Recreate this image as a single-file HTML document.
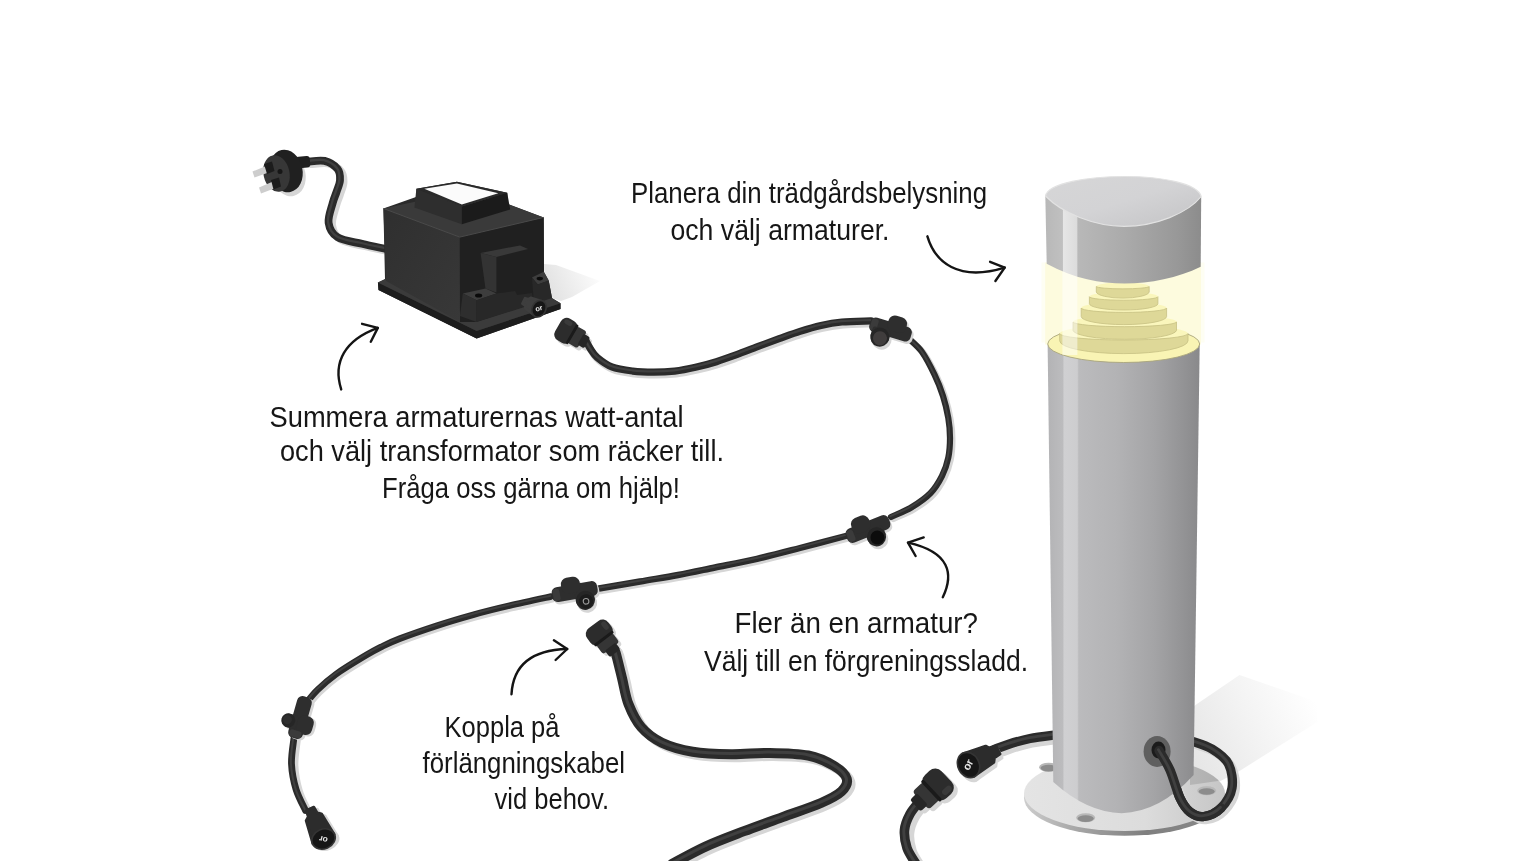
<!DOCTYPE html>
<html lang="sv"><head><meta charset="utf-8"><title>Trädgårdsbelysning</title>
<style>html,body{margin:0;padding:0;background:#fff;overflow:hidden}svg{display:block;will-change:transform}</style></head>
<body>
<svg width="1530" height="861" viewBox="0 0 1530 861">
<rect width="1530" height="861" fill="#ffffff"/>
<defs><linearGradient id="gBody" x1="0" x2="1" y1="0" y2="0"><stop offset="0" stop-color="#b3b3b5"/><stop offset="0.10" stop-color="#bcbcbe"/><stop offset="0.108" stop-color="#d0d0d2"/><stop offset="0.195" stop-color="#cdcdcf"/><stop offset="0.205" stop-color="#bbbbbd"/><stop offset="0.45" stop-color="#b3b3b5"/><stop offset="0.70" stop-color="#a4a4a6"/><stop offset="0.87" stop-color="#959597"/><stop offset="1" stop-color="#89898b"/></linearGradient><linearGradient id="gCap" x1="0" x2="1" y1="0" y2="0"><stop offset="0" stop-color="#b8b8b8"/><stop offset="0.11" stop-color="#c0c0c0"/><stop offset="0.115" stop-color="#e6e6e6"/><stop offset="0.20" stop-color="#dcdcdc"/><stop offset="0.21" stop-color="#b8b8b8"/><stop offset="0.5" stop-color="#ababab"/><stop offset="0.85" stop-color="#989898"/><stop offset="1" stop-color="#8c8c8c"/></linearGradient><linearGradient id="gTop" x1="0" x2="1" y1="0" y2="1"><stop offset="0" stop-color="#d6d6d7"/><stop offset="0.5" stop-color="#d3d3d5"/><stop offset="1" stop-color="#c3c3c5"/></linearGradient><linearGradient id="gShadow" gradientUnits="userSpaceOnUse" x1="1196" y1="765" x2="1317" y2="705"><stop offset="0" stop-color="#e6e6e6"/><stop offset="0.5" stop-color="#f3f3f3"/><stop offset="1" stop-color="#ffffff"/></linearGradient><linearGradient id="gShadowT" x1="0" x2="1" y1="0.3" y2="0"><stop offset="0" stop-color="#e3e3e3"/><stop offset="1" stop-color="#ffffff"/></linearGradient><linearGradient id="gPlate" x1="0" x2="1" y1="0" y2="0"><stop offset="0" stop-color="#e4e4e4"/><stop offset="0.6" stop-color="#dcdcdc"/><stop offset="1" stop-color="#c6c6c6"/></linearGradient><linearGradient id="gEdge" x1="0" x2="1" y1="0" y2="0"><stop offset="0" stop-color="#cdcdcd"/><stop offset="0.25" stop-color="#a8a8a8"/><stop offset="0.6" stop-color="#7f7f7f"/><stop offset="1" stop-color="#8a8a8a"/></linearGradient><linearGradient id="gLeft" x1="0" x2="1" y1="0" y2="1"><stop offset="0" stop-color="#2f2f2f"/><stop offset="1" stop-color="#383838"/></linearGradient><radialGradient id="gGlow" cx="0.5" cy="0.5" r="0.5"><stop offset="0.8" stop-color="#fdfbdc"/><stop offset="1" stop-color="#ffffff"/></radialGradient><clipPath id="cPlate"><ellipse cx="1124.5" cy="793.5" rx="100.5" ry="37.5"/></clipPath><clipPath id="cGlass"><path d="M1040 255 L1046.7 263.8 Q1124.6 303 1200.7 266.8 L1206 255 L1206 375 L1040 375Z"/></clipPath></defs>
<path d="M1194 706 L1239.5 675 L1317.4 702 L1317.4 722 L1239.5 771 L1194 795Z" fill="url(#gShadow)"/>
<ellipse cx="1124.5" cy="797.8" rx="100.5" ry="38" fill="url(#gEdge)"/>
<ellipse cx="1124.5" cy="793.5" rx="100.5" ry="37.5" fill="url(#gPlate)"/>
<ellipse cx="1048.6" cy="767.3" rx="9.5" ry="4.500" fill="#b8b8b8"/>
<ellipse cx="1048.6" cy="768.1" rx="8" ry="3.300" fill="#8c8c8c"/>
<ellipse cx="1085.7" cy="817.8" rx="9.5" ry="4.500" fill="#b8b8b8"/>
<ellipse cx="1085.7" cy="818.6" rx="8" ry="3.300" fill="#8c8c8c"/>
<ellipse cx="1206.7" cy="790.7" rx="9.5" ry="4.500" fill="#b8b8b8"/>
<ellipse cx="1206.7" cy="791.5" rx="8" ry="3.300" fill="#8c8c8c"/>
<g clip-path="url(#cPlate)"><path d="M1190 745 L1232 760 L1232 779 L1190 785Z" fill="#000" opacity="0.12"/></g>
<path d="M1159.0 750.5 C1160.8 753.8 1166.5 762.1 1170.0 770.0 C1173.5 777.9 1176.7 791.0 1180.0 798.0 C1183.3 805.0 1186.0 808.9 1190.0 812.0 C1194.0 815.1 1198.8 817.2 1204.0 816.5 C1209.2 815.8 1216.3 812.8 1221.0 808.0 C1225.7 803.2 1230.8 795.3 1232.0 788.0 C1233.2 780.7 1231.8 770.5 1228.5 764.0 C1225.2 757.5 1218.4 752.9 1212.0 749.0 C1205.6 745.1 1193.7 741.9 1190.0 740.5" fill="none" stroke="#d6d6d6" stroke-width="9.3" stroke-linecap="round" transform="translate(3.0 3.0)"/><path d="M1159.0 750.5 C1160.8 753.8 1166.5 762.1 1170.0 770.0 C1173.5 777.9 1176.7 791.0 1180.0 798.0 C1183.3 805.0 1186.0 808.9 1190.0 812.0 C1194.0 815.1 1198.8 817.2 1204.0 816.5 C1209.2 815.8 1216.3 812.8 1221.0 808.0 C1225.7 803.2 1230.8 795.3 1232.0 788.0 C1233.2 780.7 1231.8 770.5 1228.5 764.0 C1225.2 757.5 1218.4 752.9 1212.0 749.0 C1205.6 745.1 1193.7 741.9 1190.0 740.5" fill="none" stroke="#2b2b2b" stroke-width="9.3" stroke-linecap="round"/><path d="M1159.0 750.5 C1160.8 753.8 1166.5 762.1 1170.0 770.0 C1173.5 777.9 1176.7 791.0 1180.0 798.0 C1183.3 805.0 1186.0 808.9 1190.0 812.0 C1194.0 815.1 1198.8 817.2 1204.0 816.5 C1209.2 815.8 1216.3 812.8 1221.0 808.0 C1225.7 803.2 1230.8 795.3 1232.0 788.0 C1233.2 780.7 1231.8 770.5 1228.5 764.0 C1225.2 757.5 1218.4 752.9 1212.0 749.0 C1205.6 745.1 1193.7 741.9 1190.0 740.5" fill="none" stroke="#404040" stroke-width="2.8" stroke-linecap="round" transform="translate(-0.6 -0.8)"/>
<path d="M1058.0 734.5 C1053.3 735.2 1038.3 736.8 1030.0 738.5 C1021.7 740.2 1015.0 742.2 1008.0 744.5 C1001.0 746.8 991.3 750.8 988.0 752.0" fill="none" stroke="#d6d6d6" stroke-width="9.3" stroke-linecap="round" transform="translate(2.0 4.5)"/><path d="M1058.0 734.5 C1053.3 735.2 1038.3 736.8 1030.0 738.5 C1021.7 740.2 1015.0 742.2 1008.0 744.5 C1001.0 746.8 991.3 750.8 988.0 752.0" fill="none" stroke="#2b2b2b" stroke-width="9.3" stroke-linecap="round"/><path d="M1058.0 734.5 C1053.3 735.2 1038.3 736.8 1030.0 738.5 C1021.7 740.2 1015.0 742.2 1008.0 744.5 C1001.0 746.8 991.3 750.8 988.0 752.0" fill="none" stroke="#404040" stroke-width="2.8" stroke-linecap="round" transform="translate(-0.6 -0.8)"/>
<path d="M1047.6 343 L1053.3 782 Q1087 812.500 1121.6 813.2 Q1160 812 1193.6 775 L1199.7 344 Z" fill="url(#gBody)"/>
<rect x="1041.500" y="262.500" width="163" height="80" fill="#fefef3"/>
<rect x="1045.2" y="262.500" width="155.7" height="82" fill="#fdfbde"/>
<ellipse cx="1123.700" cy="344" rx="76" ry="18.500" fill="#f9f4b4" stroke="#a9a57c" stroke-width="0.9"/>
<ellipse cx="1123.8" cy="333.5" rx="64.1" ry="8.0" fill="#faf6bc"/>
<path d="M1059.7 333.5 A64.1 6.5 0 0 0 1188.0 333.5 L1188.0 340.8 A64.1 12.8 0 0 1 1059.7 340.8 Z" fill="#ded898" stroke="#c6c083" stroke-width="0.8"/>
<ellipse cx="1124.8" cy="322.0" rx="51.8" ry="6.4" fill="#faf6bc"/>
<path d="M1073.0 322.0 A51.8 4.9 0 0 0 1176.5 322.0 L1176.5 330.4 A51.8 9.3 0 0 1 1073.0 330.4 Z" fill="#ded898" stroke="#c6c083" stroke-width="0.8"/>
<ellipse cx="1123.9" cy="308.0" rx="42.7" ry="5.9" fill="#faf6bc"/>
<path d="M1081.2 308.0 A42.7 4.4 0 0 0 1166.6 308.0 L1166.6 316.5 A42.7 8.1 0 0 1 1081.2 316.5 Z" fill="#ded898" stroke="#c6c083" stroke-width="0.8"/>
<ellipse cx="1123.7" cy="296.7" rx="34.2" ry="5.0" fill="#faf6bc"/>
<path d="M1089.4 296.7 A34.2 3.5 0 0 0 1157.9 296.7 L1157.9 303.7 A34.2 6.3 0 0 1 1089.4 303.7 Z" fill="#ded898" stroke="#c6c083" stroke-width="0.8"/>
<ellipse cx="1122.8" cy="286.5" rx="26.5" ry="4.0" fill="#faf6bc"/>
<path d="M1096.3 286.5 A26.5 2.5 0 0 0 1149.2 286.5 L1149.2 292.0 A26.5 6.5 0 0 1 1096.3 292.0 Z" fill="#ded898" stroke="#c6c083" stroke-width="0.8"/>
<g clip-path="url(#cGlass)"><rect x="1062.4" y="255" width="15" height="100" fill="#ffffff" opacity="0.5"/></g>
<path d="M1045.3 195 L1046.7 263.8 C1075 279 1100 283.6 1124.6 283.6 C1150 283.6 1178 278 1200.7 266.8 L1201.2 197 Z" fill="url(#gCap)"/>
<path d="M1045.5 196 C1048 183 1088 176.5 1125 176.5 C1162 176.5 1198 183.500 1201.2 196.5 C1188 213 1156 226.3 1124 226.3 C1094 226.3 1062 213 1045.5 196Z" fill="url(#gTop)" stroke="#e2e2e2" stroke-width="1.2"/>
<ellipse cx="1157.1" cy="751.4" rx="13.5" ry="15.5" fill="#5f5f5f"/>
<ellipse cx="1158.5" cy="750" rx="7" ry="8.500" fill="#1b1b1b"/>
<path d="M1159.0 750.5 C1160.8 753.8 1166.5 762.1 1170.0 770.0 C1173.5 777.9 1176.7 791.0 1180.0 798.0 C1183.3 805.0 1186.0 808.9 1190.0 812.0 C1194.0 815.1 1198.8 817.2 1204.0 816.5 C1209.2 815.8 1216.3 812.8 1221.0 808.0" fill="none" stroke="#2b2b2b" stroke-width="9.3" stroke-linecap="round"/><path d="M1159.0 750.5 C1160.8 753.8 1166.5 762.1 1170.0 770.0 C1173.5 777.9 1176.7 791.0 1180.0 798.0 C1183.3 805.0 1186.0 808.9 1190.0 812.0 C1194.0 815.1 1198.8 817.2 1204.0 816.5 C1209.2 815.8 1216.3 812.8 1221.0 808.0" fill="none" stroke="#404040" stroke-width="2.8" stroke-linecap="round" transform="translate(-0.6 -0.8)"/>
<g transform="translate(970.5 769.0) rotate(-27.0)"><path d="M0 -12.5 L23.8 -9.0 L26.4 -5.2 L33.0 -4.5 L33.0 4.5 L26.4 5.2 L23.8 9.0 L0 12.5 Z" fill="#d6d6d6" stroke="#d6d6d6" stroke-width="3" stroke-linejoin="round"/><ellipse cx="0" cy="0" rx="10.0" ry="14.0" fill="#d6d6d6"/></g><g transform="translate(968.5 765.0) rotate(-27.0)"><path d="M0 -12.5 L23.8 -9.0 L26.4 -5.2 L33.0 -4.5 L33.0 4.5 L26.4 5.2 L23.8 9.0 L0 12.5 Z" fill="#2c2c2c" stroke="#2c2c2c" stroke-width="3" stroke-linejoin="round"/><ellipse cx="0" cy="0" rx="10.6" ry="13.1" fill="#161616" stroke="#343434" stroke-width="1.6"/></g><text x="968.5" y="768.1" font-family="'Liberation Sans', sans-serif" font-size="11.0" font-weight="bold" fill="#e6e6e6" text-anchor="middle" transform="rotate(-62.0 968.5 765.0)">or</text>
<g transform="translate(942.5 787.0) rotate(137.0) scale(1.22)"><rect x="-9" y="-13" width="19" height="26" rx="7" fill="#d6d6d6"/><rect x="8" y="-10" width="12" height="20" rx="3" fill="#d6d6d6"/><rect x="18" y="-6.500" width="8" height="13" rx="2" fill="#d6d6d6"/></g>
<path d="M920.0 801.0 C918.3 803.2 912.6 809.2 910.0 814.0 C907.4 818.8 905.0 824.3 904.5 830.0 C904.0 835.7 905.1 842.3 907.0 848.0 C908.9 853.7 914.5 861.3 916.0 864.0" fill="none" stroke="#d6d6d6" stroke-width="9.6" stroke-linecap="round" transform="translate(5.0 3.0)"/><path d="M920.0 801.0 C918.3 803.2 912.6 809.2 910.0 814.0 C907.4 818.8 905.0 824.3 904.5 830.0 C904.0 835.7 905.1 842.3 907.0 848.0 C908.9 853.7 914.5 861.3 916.0 864.0" fill="none" stroke="#2b2b2b" stroke-width="9.6" stroke-linecap="round"/><path d="M920.0 801.0 C918.3 803.2 912.6 809.2 910.0 814.0 C907.4 818.8 905.0 824.3 904.5 830.0 C904.0 835.7 905.1 842.3 907.0 848.0 C908.9 853.7 914.5 861.3 916.0 864.0" fill="none" stroke="#404040" stroke-width="2.9" stroke-linecap="round" transform="translate(-0.6 -0.8)"/>
<g transform="translate(938.5 784.0) rotate(137.0) scale(1.22)"><rect x="-9" y="-13" width="19" height="26" rx="7" fill="#2c2c2c"/><rect x="8" y="-10" width="12" height="20" rx="3" fill="#353535"/><rect x="18" y="-6.500" width="8" height="13" rx="2" fill="#262626"/><rect x="6.500" y="-11.500" width="3" height="23" rx="1.5" fill="#1a1a1a"/><rect x="-6" y="-11" width="9" height="5" rx="2.5" fill="#3a3a3a"/></g>
<g transform="translate(602.0 634.5) rotate(53.0) scale(1.02)"><rect x="-9" y="-13" width="19" height="26" rx="7" fill="#d6d6d6"/><rect x="8" y="-10" width="12" height="20" rx="3" fill="#d6d6d6"/><rect x="18" y="-6.500" width="8" height="13" rx="2" fill="#d6d6d6"/></g>
<path d="M613.5 649.0 C613.9 649.6 614.3 647.9 615.7 652.8 C617.1 657.7 620.0 669.9 622.1 678.5 C624.2 687.1 625.3 696.1 628.5 704.2 C631.7 712.3 635.7 720.9 641.3 727.3 C646.9 733.7 653.3 738.6 661.9 742.7 C670.5 746.8 681.2 749.8 692.7 751.7 C704.2 753.6 718.4 754.0 731.2 754.2 C744.0 754.4 756.9 752.7 769.7 752.9 C782.5 753.1 797.5 753.4 808.2 755.5 C818.9 757.6 827.4 761.9 833.8 765.8 C840.2 769.6 845.4 774.3 846.7 778.6 C848.0 782.9 845.8 787.3 841.5 791.4 C837.2 795.5 830.8 798.7 821.0 803.0 C811.2 807.3 795.3 812.4 782.5 817.1 C769.7 821.8 756.8 826.3 744.0 831.2 C731.2 836.1 717.5 841.1 705.5 846.6 C693.5 852.1 677.6 861.1 672.0 864.0" fill="none" stroke="#d6d6d6" stroke-width="10.0" stroke-linecap="round" transform="translate(3.5 3.0)"/><path d="M613.5 649.0 C613.9 649.6 614.3 647.9 615.7 652.8 C617.1 657.7 620.0 669.9 622.1 678.5 C624.2 687.1 625.3 696.1 628.5 704.2 C631.7 712.3 635.7 720.9 641.3 727.3 C646.9 733.7 653.3 738.6 661.9 742.7 C670.5 746.8 681.2 749.8 692.7 751.7 C704.2 753.6 718.4 754.0 731.2 754.2 C744.0 754.4 756.9 752.7 769.7 752.9 C782.5 753.1 797.5 753.4 808.2 755.5 C818.9 757.6 827.4 761.9 833.8 765.8 C840.2 769.6 845.4 774.3 846.7 778.6 C848.0 782.9 845.8 787.3 841.5 791.4 C837.2 795.5 830.8 798.7 821.0 803.0 C811.2 807.3 795.3 812.4 782.5 817.1 C769.7 821.8 756.8 826.3 744.0 831.2 C731.2 836.1 717.5 841.1 705.5 846.6 C693.5 852.1 677.6 861.1 672.0 864.0" fill="none" stroke="#2b2b2b" stroke-width="10.0" stroke-linecap="round"/><path d="M613.5 649.0 C613.9 649.6 614.3 647.9 615.7 652.8 C617.1 657.7 620.0 669.9 622.1 678.5 C624.2 687.1 625.3 696.1 628.5 704.2 C631.7 712.3 635.7 720.9 641.3 727.3 C646.9 733.7 653.3 738.6 661.9 742.7 C670.5 746.8 681.2 749.8 692.7 751.7 C704.2 753.6 718.4 754.0 731.2 754.2 C744.0 754.4 756.9 752.7 769.7 752.9 C782.5 753.1 797.5 753.4 808.2 755.5 C818.9 757.6 827.4 761.9 833.8 765.8 C840.2 769.6 845.4 774.3 846.7 778.6 C848.0 782.9 845.8 787.3 841.5 791.4 C837.2 795.5 830.8 798.7 821.0 803.0 C811.2 807.3 795.3 812.4 782.5 817.1 C769.7 821.8 756.8 826.3 744.0 831.2 C731.2 836.1 717.5 841.1 705.5 846.6 C693.5 852.1 677.6 861.1 672.0 864.0" fill="none" stroke="#404040" stroke-width="3.0" stroke-linecap="round" transform="translate(-0.6 -0.8)"/>
<g transform="translate(599.0 632.0) rotate(53.0) scale(1.02)"><rect x="-9" y="-13" width="19" height="26" rx="7" fill="#2c2c2c"/><rect x="8" y="-10" width="12" height="20" rx="3" fill="#353535"/><rect x="18" y="-6.500" width="8" height="13" rx="2" fill="#262626"/><rect x="6.500" y="-11.500" width="3" height="23" rx="1.5" fill="#1a1a1a"/><rect x="-6" y="-11" width="9" height="5" rx="2.5" fill="#3a3a3a"/></g>
<g transform="translate(568.0 333.5) rotate(30.0) scale(0.96)"><rect x="-9" y="-13" width="19" height="26" rx="7" fill="#d6d6d6"/><rect x="8" y="-10" width="12" height="20" rx="3" fill="#d6d6d6"/><rect x="18" y="-6.500" width="8" height="13" rx="2" fill="#d6d6d6"/></g>
<path d="M585.0 339.0 C585.9 340.7 588.5 345.9 590.5 349.0 C592.5 352.1 593.7 354.5 597.2 357.5 C600.8 360.5 605.9 364.6 611.8 366.9 C617.7 369.2 625.7 370.2 632.7 371.1 C639.7 372.0 646.7 372.2 653.7 372.2 C660.7 372.2 667.6 371.9 674.6 371.1 C681.6 370.3 688.5 368.9 695.5 367.3 C702.5 365.7 709.4 363.9 716.4 361.7 C723.4 359.5 730.3 356.9 737.3 354.4 C744.3 351.8 751.2 349.0 758.2 346.4 C765.2 343.8 772.2 341.2 779.2 338.7 C786.2 336.2 793.0 333.6 800.0 331.4 C807.0 329.2 814.0 327.1 821.0 325.5 C828.0 323.9 833.6 322.8 841.9 322.0 C850.2 321.2 866.1 321.1 871.0 320.9" fill="none" stroke="#d6d6d6" stroke-width="7.2" stroke-linecap="round" transform="translate(1.5 2.8)"/><path d="M585.0 339.0 C585.9 340.7 588.5 345.9 590.5 349.0 C592.5 352.1 593.7 354.5 597.2 357.5 C600.8 360.5 605.9 364.6 611.8 366.9 C617.7 369.2 625.7 370.2 632.7 371.1 C639.7 372.0 646.7 372.2 653.7 372.2 C660.7 372.2 667.6 371.9 674.6 371.1 C681.6 370.3 688.5 368.9 695.5 367.3 C702.5 365.7 709.4 363.9 716.4 361.7 C723.4 359.5 730.3 356.9 737.3 354.4 C744.3 351.8 751.2 349.0 758.2 346.4 C765.2 343.8 772.2 341.2 779.2 338.7 C786.2 336.2 793.0 333.6 800.0 331.4 C807.0 329.2 814.0 327.1 821.0 325.5 C828.0 323.9 833.6 322.8 841.9 322.0 C850.2 321.2 866.1 321.1 871.0 320.9" fill="none" stroke="#2b2b2b" stroke-width="7.2" stroke-linecap="round"/><path d="M585.0 339.0 C585.9 340.7 588.5 345.9 590.5 349.0 C592.5 352.1 593.7 354.5 597.2 357.5 C600.8 360.5 605.9 364.6 611.8 366.9 C617.7 369.2 625.7 370.2 632.7 371.1 C639.7 372.0 646.7 372.2 653.7 372.2 C660.7 372.2 667.6 371.9 674.6 371.1 C681.6 370.3 688.5 368.9 695.5 367.3 C702.5 365.7 709.4 363.9 716.4 361.7 C723.4 359.5 730.3 356.9 737.3 354.4 C744.3 351.8 751.2 349.0 758.2 346.4 C765.2 343.8 772.2 341.2 779.2 338.7 C786.2 336.2 793.0 333.6 800.0 331.4 C807.0 329.2 814.0 327.1 821.0 325.5 C828.0 323.9 833.6 322.8 841.9 322.0 C850.2 321.2 866.1 321.1 871.0 320.9" fill="none" stroke="#404040" stroke-width="2.2" stroke-linecap="round" transform="translate(-0.6 -0.8)"/>
<path d="M908.0 338.0 C910.3 340.3 917.6 345.9 922.0 352.0 C926.4 358.1 931.0 367.4 934.5 374.7 C938.0 382.0 940.7 388.8 943.0 396.0 C945.3 403.2 947.1 411.0 948.3 418.0 C949.5 425.0 950.0 431.4 950.0 438.0 C950.0 444.6 949.6 451.3 948.3 457.6 C947.0 463.9 945.0 470.1 942.0 476.0 C939.0 481.9 935.6 487.8 930.6 493.0 C925.6 498.2 918.6 503.0 912.0 507.0 C905.4 511.0 894.5 515.3 891.0 517.0" fill="none" stroke="#d6d6d6" stroke-width="6.2" stroke-linecap="round" transform="translate(2.4 2.0)"/><path d="M908.0 338.0 C910.3 340.3 917.6 345.9 922.0 352.0 C926.4 358.1 931.0 367.4 934.5 374.7 C938.0 382.0 940.7 388.8 943.0 396.0 C945.3 403.2 947.1 411.0 948.3 418.0 C949.5 425.0 950.0 431.4 950.0 438.0 C950.0 444.6 949.6 451.3 948.3 457.6 C947.0 463.9 945.0 470.1 942.0 476.0 C939.0 481.9 935.6 487.8 930.6 493.0 C925.6 498.2 918.6 503.0 912.0 507.0 C905.4 511.0 894.5 515.3 891.0 517.0" fill="none" stroke="#2b2b2b" stroke-width="6.2" stroke-linecap="round"/><path d="M908.0 338.0 C910.3 340.3 917.6 345.9 922.0 352.0 C926.4 358.1 931.0 367.4 934.5 374.7 C938.0 382.0 940.7 388.8 943.0 396.0 C945.3 403.2 947.1 411.0 948.3 418.0 C949.5 425.0 950.0 431.4 950.0 438.0 C950.0 444.6 949.6 451.3 948.3 457.6 C947.0 463.9 945.0 470.1 942.0 476.0 C939.0 481.9 935.6 487.8 930.6 493.0 C925.6 498.2 918.6 503.0 912.0 507.0 C905.4 511.0 894.5 515.3 891.0 517.0" fill="none" stroke="#404040" stroke-width="1.9" stroke-linecap="round" transform="translate(-0.6 -0.8)"/>
<path d="M845.7 536.0 C838.1 538.0 814.8 544.2 800.0 548.0 C785.2 551.8 771.2 555.5 757.0 558.8 C742.8 562.0 728.2 564.8 715.0 567.5 C701.8 570.2 690.5 572.7 678.0 575.0 C665.5 577.3 653.2 579.2 640.0 581.5 C626.8 583.8 605.8 587.3 599.0 588.5" fill="none" stroke="#d6d6d6" stroke-width="6.4" stroke-linecap="round" transform="translate(1.5 2.6)"/><path d="M845.7 536.0 C838.1 538.0 814.8 544.2 800.0 548.0 C785.2 551.8 771.2 555.5 757.0 558.8 C742.8 562.0 728.2 564.8 715.0 567.5 C701.8 570.2 690.5 572.7 678.0 575.0 C665.5 577.3 653.2 579.2 640.0 581.5 C626.8 583.8 605.8 587.3 599.0 588.5" fill="none" stroke="#2b2b2b" stroke-width="6.4" stroke-linecap="round"/><path d="M845.7 536.0 C838.1 538.0 814.8 544.2 800.0 548.0 C785.2 551.8 771.2 555.5 757.0 558.8 C742.8 562.0 728.2 564.8 715.0 567.5 C701.8 570.2 690.5 572.7 678.0 575.0 C665.5 577.3 653.2 579.2 640.0 581.5 C626.8 583.8 605.8 587.3 599.0 588.5" fill="none" stroke="#404040" stroke-width="1.9" stroke-linecap="round" transform="translate(-0.6 -0.8)"/>
<path d="M551.0 596.5 C544.1 598.0 522.6 602.6 509.6 605.6 C496.6 608.6 485.2 611.4 473.0 614.8 C460.8 618.2 448.6 621.8 436.4 625.8 C424.2 629.8 409.0 635.1 399.8 638.6 C390.6 642.1 387.1 644.0 381.0 647.0 C374.9 650.0 370.7 652.4 363.2 656.9 C355.7 661.4 343.4 668.8 335.8 674.3 C328.2 679.8 322.4 685.1 317.5 689.8 C312.6 694.5 308.3 700.5 306.5 702.6" fill="none" stroke="#d6d6d6" stroke-width="6.5" stroke-linecap="round" transform="translate(2.0 2.6)"/><path d="M551.0 596.5 C544.1 598.0 522.6 602.6 509.6 605.6 C496.6 608.6 485.2 611.4 473.0 614.8 C460.8 618.2 448.6 621.8 436.4 625.8 C424.2 629.8 409.0 635.1 399.8 638.6 C390.6 642.1 387.1 644.0 381.0 647.0 C374.9 650.0 370.7 652.4 363.2 656.9 C355.7 661.4 343.4 668.8 335.8 674.3 C328.2 679.8 322.4 685.1 317.5 689.8 C312.6 694.5 308.3 700.5 306.5 702.6" fill="none" stroke="#2b2b2b" stroke-width="6.5" stroke-linecap="round"/><path d="M551.0 596.5 C544.1 598.0 522.6 602.6 509.6 605.6 C496.6 608.6 485.2 611.4 473.0 614.8 C460.8 618.2 448.6 621.8 436.4 625.8 C424.2 629.8 409.0 635.1 399.8 638.6 C390.6 642.1 387.1 644.0 381.0 647.0 C374.9 650.0 370.7 652.4 363.2 656.9 C355.7 661.4 343.4 668.8 335.8 674.3 C328.2 679.8 322.4 685.1 317.5 689.8 C312.6 694.5 308.3 700.5 306.5 702.6" fill="none" stroke="#404040" stroke-width="1.9" stroke-linecap="round" transform="translate(-0.6 -0.8)"/>
<path d="M293.8 739.0 C293.4 743.2 291.1 755.6 291.5 764.0 C291.9 772.4 293.7 781.5 296.0 789.3 C298.3 797.0 303.9 807.0 305.5 810.5" fill="none" stroke="#d6d6d6" stroke-width="6.8" stroke-linecap="round" transform="translate(3.5 2.0)"/><path d="M293.8 739.0 C293.4 743.2 291.1 755.6 291.5 764.0 C291.9 772.4 293.7 781.5 296.0 789.3 C298.3 797.0 303.9 807.0 305.5 810.5" fill="none" stroke="#2b2b2b" stroke-width="6.8" stroke-linecap="round"/><path d="M293.8 739.0 C293.4 743.2 291.1 755.6 291.5 764.0 C291.9 772.4 293.7 781.5 296.0 789.3 C298.3 797.0 303.9 807.0 305.5 810.5" fill="none" stroke="#404040" stroke-width="2.0" stroke-linecap="round" transform="translate(-0.6 -0.8)"/>
<g transform="translate(565.5 330.5) rotate(30.0) scale(0.96)"><rect x="-9" y="-13" width="19" height="26" rx="7" fill="#2c2c2c"/><rect x="8" y="-10" width="12" height="20" rx="3" fill="#353535"/><rect x="18" y="-6.500" width="8" height="13" rx="2" fill="#262626"/><rect x="6.500" y="-11.500" width="3" height="23" rx="1.5" fill="#1a1a1a"/><rect x="-6" y="-11" width="9" height="5" rx="2.5" fill="#3a3a3a"/></g>
<g transform="translate(892.3 331.9) rotate(17.0)"><rect x="-21.5" y="-7.5" width="43.0" height="15.0" rx="5.500" fill="#d6d6d6"/><rect x="-4.5" y="-15.0" width="19" height="16" rx="6.500" fill="#d6d6d6"/><circle cx="-8.0" cy="10.5" r="10.0" fill="#d6d6d6"/></g><g transform="translate(890.5 329.5) rotate(17.0)"><rect x="-21.5" y="-7.5" width="43.0" height="15.0" rx="5.500" fill="#2e2e2e"/><rect x="-4.5" y="-15.0" width="19" height="16" rx="6.500" fill="#2e2e2e"/><rect x="-20.5" y="-6.0" width="7" height="12.0" rx="2.500" fill="#3b3b3b"/><rect x="-17.5" y="1.5" width="19.0" height="12" rx="3" fill="#2e2e2e"/><circle cx="-8.0" cy="10.5" r="9.5" fill="#262626"/><circle cx="-7.5" cy="11.5" r="7.0" fill="#403d3d"/></g>
<g transform="translate(869.8 531.4) rotate(-22.0)"><rect x="-23.0" y="-7.5" width="46.0" height="15.0" rx="5.500" fill="#d6d6d6"/><rect x="-14.5" y="-15.0" width="19" height="16" rx="6.500" fill="#d6d6d6"/><circle cx="5.0" cy="10.5" r="10.0" fill="#d6d6d6"/></g><g transform="translate(868.0 529.0) rotate(-22.0)"><rect x="-23.0" y="-7.5" width="46.0" height="15.0" rx="5.500" fill="#2e2e2e"/><rect x="-14.5" y="-15.0" width="19" height="16" rx="6.500" fill="#2e2e2e"/><rect x="-22.0" y="-6.0" width="7" height="12.0" rx="2.500" fill="#3b3b3b"/><rect x="-4.5" y="1.5" width="19.0" height="12" rx="3" fill="#2e2e2e"/><circle cx="5.0" cy="10.5" r="9.5" fill="#262626"/><circle cx="5.5" cy="11.5" r="7.0" fill="#0c0c0c"/></g>
<g transform="translate(576.5 594.0) rotate(-10.0)"><rect x="-23.0" y="-7.5" width="46.0" height="15.0" rx="5.500" fill="#d6d6d6"/><rect x="-12.5" y="-15.0" width="19" height="16" rx="6.500" fill="#d6d6d6"/><circle cx="9.0" cy="10.5" r="10.0" fill="#d6d6d6"/></g><g transform="translate(574.7 591.6) rotate(-10.0)"><rect x="-23.0" y="-7.5" width="46.0" height="15.0" rx="5.500" fill="#2e2e2e"/><rect x="-12.5" y="-15.0" width="19" height="16" rx="6.500" fill="#2e2e2e"/><rect x="-22.0" y="-6.0" width="7" height="12.0" rx="2.500" fill="#3b3b3b"/><rect x="-0.5" y="1.5" width="19.0" height="12" rx="3" fill="#2e2e2e"/><circle cx="9.0" cy="10.5" r="9.5" fill="#262626"/><circle cx="9.5" cy="11.5" r="7.0" fill="#1c1c1c"/><circle cx="9.5" cy="11.5" r="2.800" fill="none" stroke="#9a9a9a" stroke-width="1.1"/></g>
<g transform="translate(302.5 719.0) rotate(-74.0)"><rect x="-21.5" y="-7.5" width="43.0" height="15.0" rx="5.500" fill="#d6d6d6"/><rect x="-15.5" y="-1.0" width="19" height="16" rx="6.500" fill="#d6d6d6"/><circle cx="-6.0" cy="-10.5" r="7.5" fill="#d6d6d6"/></g><g transform="translate(300.0 717.5) rotate(-74.0)"><rect x="-21.5" y="-7.5" width="43.0" height="15.0" rx="5.500" fill="#2e2e2e"/><rect x="-15.5" y="-1.0" width="19" height="16" rx="6.500" fill="#2e2e2e"/><rect x="-20.5" y="-6.0" width="7" height="12.0" rx="2.500" fill="#3b3b3b"/><rect x="-13.0" y="-13.5" width="14.0" height="12" rx="3" fill="#2e2e2e"/><circle cx="-6.0" cy="-10.5" r="7.0" fill="#262626"/><circle cx="-5.5" cy="-11.5" r="4.5" fill="#2e2e2e"/></g>
<g transform="translate(327.0 841.0) rotate(-114.0)"><path d="M0 -11.5 L23.8 -8.3 L26.4 -4.8 L33.0 -4.1 L33.0 4.1 L26.4 4.8 L23.8 8.3 L0 11.5 Z" fill="#d6d6d6" stroke="#d6d6d6" stroke-width="3" stroke-linejoin="round"/><ellipse cx="0" cy="0" rx="9.2" ry="13.0" fill="#d6d6d6"/></g><g transform="translate(323.5 839.0) rotate(-114.0)"><path d="M0 -11.5 L23.8 -8.3 L26.4 -4.8 L33.0 -4.1 L33.0 4.1 L26.4 4.8 L23.8 8.3 L0 11.5 Z" fill="#2c2c2c" stroke="#2c2c2c" stroke-width="3" stroke-linejoin="round"/><ellipse cx="0" cy="0" rx="9.8" ry="12.1" fill="#161616" stroke="#343434" stroke-width="1.6"/></g><text x="323.5" y="841.4" font-family="'Liberation Sans', sans-serif" font-size="8.5" font-weight="bold" fill="#e6e6e6" text-anchor="middle" transform="rotate(195.0 323.5 839.0)">or</text>
<path d="M307.5 161.7 C310.4 161.6 319.6 159.7 324.6 160.9 C329.6 162.1 335.0 165.8 337.6 169.0 C340.2 172.2 340.2 176.6 340.0 180.4 C339.8 184.2 337.7 188.2 336.5 192.0 C335.3 195.8 334.0 197.9 332.7 203.0 C331.4 208.1 327.8 217.0 328.6 222.7 C329.4 228.4 332.0 233.8 337.6 237.3 C343.2 240.8 353.9 241.9 362.0 243.8 C370.1 245.8 382.0 248.1 386.0 249.0" fill="none" stroke="#d6d6d6" stroke-width="7.8" stroke-linecap="round" transform="translate(3.5 2.5)"/><path d="M307.5 161.7 C310.4 161.6 319.6 159.7 324.6 160.9 C329.6 162.1 335.0 165.8 337.6 169.0 C340.2 172.2 340.2 176.6 340.0 180.4 C339.8 184.2 337.7 188.2 336.5 192.0 C335.3 195.8 334.0 197.9 332.7 203.0 C331.4 208.1 327.8 217.0 328.6 222.7 C329.4 228.4 332.0 233.8 337.6 237.3 C343.2 240.8 353.9 241.9 362.0 243.8 C370.1 245.8 382.0 248.1 386.0 249.0" fill="none" stroke="#2b2b2b" stroke-width="7.8" stroke-linecap="round"/><path d="M307.5 161.7 C310.4 161.6 319.6 159.7 324.6 160.9 C329.6 162.1 335.0 165.8 337.6 169.0 C340.2 172.2 340.2 176.6 340.0 180.4 C339.8 184.2 337.7 188.2 336.5 192.0 C335.3 195.8 334.0 197.9 332.7 203.0 C331.4 208.1 327.8 217.0 328.6 222.7 C329.4 228.4 332.0 233.8 337.6 237.3 C343.2 240.8 353.9 241.9 362.0 243.8 C370.1 245.8 382.0 248.1 386.0 249.0" fill="none" stroke="#404040" stroke-width="2.3" stroke-linecap="round" transform="translate(-0.6 -0.8)"/>
<ellipse cx="289" cy="175" rx="16.500" ry="21.500" fill="#d6d6d6" transform="rotate(-12 289 175)"/>
<rect x="296" y="156.500" width="14" height="11.500" rx="3" fill="#1f1f1f" transform="rotate(-5 302 162)"/>
<ellipse cx="286" cy="171" rx="16.500" ry="21.500" fill="#202020" transform="rotate(-12 286 171)"/>
<ellipse cx="276.5" cy="173.5" rx="13" ry="18.500" fill="#373737" transform="rotate(-12 276.5 173.5)"/>
<path d="M252.5 171.500 L266 166 L268.5 172.500 L254.5 177.5Z" fill="#cdcdcd"/>
<path d="M259 187.500 L273 181.500 L275.500 188 L261 193.500Z" fill="#cdcdcd"/>
<path d="M264 164 L272 161.500 L274.500 171 L267 174Z" fill="#1c1c1c"/>
<path d="M271 180 L279 177.500 L281 186.500 L273.500 189.500Z" fill="#1c1c1c"/>
<circle cx="280" cy="171.500" r="2.500" fill="#161616"/>
<path d="M544 264 L556 265 L600 281 L572 297 L561 301 L545 296Z" fill="url(#gShadowT)"/>
<path d="M383.4 208.5 L416 197 L416.4 188.8 L456.9 181.8 L507.2 192.7 L508 204 L543.7 217.400 L544 272 L548.7 280.6 L552 298 L560.5 303.3 L560.5 309 L476.6 338.5 L378.5 290 L377.9 282.5 L385 279Z" fill="#2a2a2a"/>
<path d="M377.9 282.5 L476.6 330.9 L560.5 303.3 L560.5 309 L476.6 338.5 L378.500 290Z" fill="#1d1d1d"/>
<path d="M377.9 282.5 L386 279 L476 318 L548 296 L560.5 303.3 L476.6 330.9Z" fill="#3b3b3b"/>
<path d="M383.4 208.5 L459.8 237.1 L460 322 L386 281Z" fill="url(#gLeft)"/>
<path d="M459.8 237.1 L543.7 217.4 L544 300 L476 322 L460 322Z" fill="#202020"/>
<path d="M383.4 208.5 L459.8 237.1 L543.7 217.4 L470 190Z" fill="#3a3a3a"/>
<path d="M383.4 208.5 L459.8 237.1 L543.7 217.4" fill="none" stroke="#4a4a4a" stroke-width="1"/>
<path d="M416.4 188.8 L414.4 207.5 L461.8 224.3 L461.8 206.5Z" fill="#2e2e2e"/>
<path d="M461.8 206.5 L461.8 224.3 L510.2 209.5 L507.2 192.7Z" fill="#1b1b1b"/>
<path d="M416.4 188.8 L456.9 181.8 L507.2 192.7 L461.8 206.5Z" fill="#2a2a2a"/>
<path d="M424.3 188.8 L456.9 183.4 L498.3 193.3 L461.8 204.6Z" fill="#fbfbfb"/>
<path d="M480.6 253 L520 245.4 L528 249 L496.4 256.9Z" fill="#393939"/>
<path d="M480.6 253 L496.4 256.9 L496.4 292.4 L485.5 288.5Z" fill="#333333"/>
<path d="M462.8 293.4 L485.5 288.5 L496.4 293.4 L476.6 300.3Z" fill="#3d3d3d"/>
<path d="M462.8 293.4 L476.6 300.3 L476.6 322 L460 316Z" fill="#2e2e2e"/>
<path d="M476.6 300.3 L496.4 293.4 L515 291 L517 295 L532 293 L534 304 L476.6 322Z" fill="#282828"/>
<ellipse cx="478.6" cy="295.4" rx="3.600" ry="2" fill="#0a0a0a"/>
<path d="M531.9 277.6 L543.7 271.7 L548.7 280.6 L537.8 284.5Z" fill="#3d3d3d"/>
<path d="M531.9 277.6 L537.8 284.5 L548.7 280.6 L552 298 L534 304Z" fill="#282828"/>
<ellipse cx="539.8" cy="278.6" rx="3.200" ry="1.800" fill="#0a0a0a"/>
<g transform="translate(539.0 308.7) rotate(207.0)"><path d="M0 -8.0 L12.2 -5.8 L13.6 -3.4 L17.0 -2.9 L17.0 2.9 L13.6 3.4 L12.2 5.8 L0 8.0 Z" fill="#3e3e3e" stroke="#3e3e3e" stroke-width="3" stroke-linejoin="round"/><ellipse cx="0" cy="0" rx="6.8" ry="8.6" fill="#161616" stroke="#343434" stroke-width="1.6"/></g><text x="539.0" y="310.8" font-family="'Liberation Sans', sans-serif" font-size="7.5" font-weight="bold" fill="#e6e6e6" text-anchor="middle" transform="rotate(-15.0 539.0 308.7)">or</text>
<path d="M927.4 236.3 C935 262 958 282 1004.7 267.6" fill="none" stroke="#141414" stroke-width="2.4" stroke-linecap="round"/><path d="M990.1 261.8 L1004.7 267.6 L995.4 281" fill="none" stroke="#141414" stroke-width="2.4" stroke-linecap="round" stroke-linejoin="round"/>
<path d="M341.2 389.4 C332.500 362 345 340 377.8 327.9" fill="none" stroke="#141414" stroke-width="2.4" stroke-linecap="round"/><path d="M362.1 323.8 L377.8 327.9 L370.8 341.8" fill="none" stroke="#141414" stroke-width="2.4" stroke-linecap="round" stroke-linejoin="round"/>
<path d="M942.8 597.2 C954 574 950 552 908 542.6" fill="none" stroke="#141414" stroke-width="2.4" stroke-linecap="round"/><path d="M923.7 537.4 L908 542.6 L915.6 556" fill="none" stroke="#141414" stroke-width="2.4" stroke-linecap="round" stroke-linejoin="round"/>
<path d="M511.5 694.3 C513 667 530 650 567.2 649" fill="none" stroke="#141414" stroke-width="2.4" stroke-linecap="round"/><path d="M553.9 640.3 L567.2 649 L555.6 660" fill="none" stroke="#141414" stroke-width="2.4" stroke-linecap="round" stroke-linejoin="round"/>
<g font-family="'Liberation Sans', sans-serif" fill="#161616">
<text x="631.0" y="203.3" textLength="356.0" lengthAdjust="spacingAndGlyphs" font-size="29">Planera din trädgårdsbelysning</text>
<text x="670.5" y="239.5" textLength="219.0" lengthAdjust="spacingAndGlyphs" font-size="29">och välj armaturer.</text>
<text x="269.5" y="426.5" textLength="414.0" lengthAdjust="spacingAndGlyphs" font-size="29">Summera armaturernas watt-antal</text>
<text x="280.0" y="461.4" textLength="444.0" lengthAdjust="spacingAndGlyphs" font-size="29">och välj transformator som räcker till.</text>
<text x="382.0" y="498.3" textLength="298.0" lengthAdjust="spacingAndGlyphs" font-size="29">Fråga oss gärna om hjälp!</text>
<text x="734.5" y="633.2" textLength="243.5" lengthAdjust="spacingAndGlyphs" font-size="29">Fler än en armatur?</text>
<text x="704.0" y="670.5" textLength="324.0" lengthAdjust="spacingAndGlyphs" font-size="29">Välj till en förgreningssladd.</text>
<text x="444.5" y="737.0" textLength="115.0" lengthAdjust="spacingAndGlyphs" font-size="29">Koppla på</text>
<text x="422.5" y="772.7" textLength="202.5" lengthAdjust="spacingAndGlyphs" font-size="29">förlängningskabel</text>
<text x="494.5" y="809.0" textLength="114.5" lengthAdjust="spacingAndGlyphs" font-size="29">vid behov.</text>
</g>
</svg>
</body></html>
